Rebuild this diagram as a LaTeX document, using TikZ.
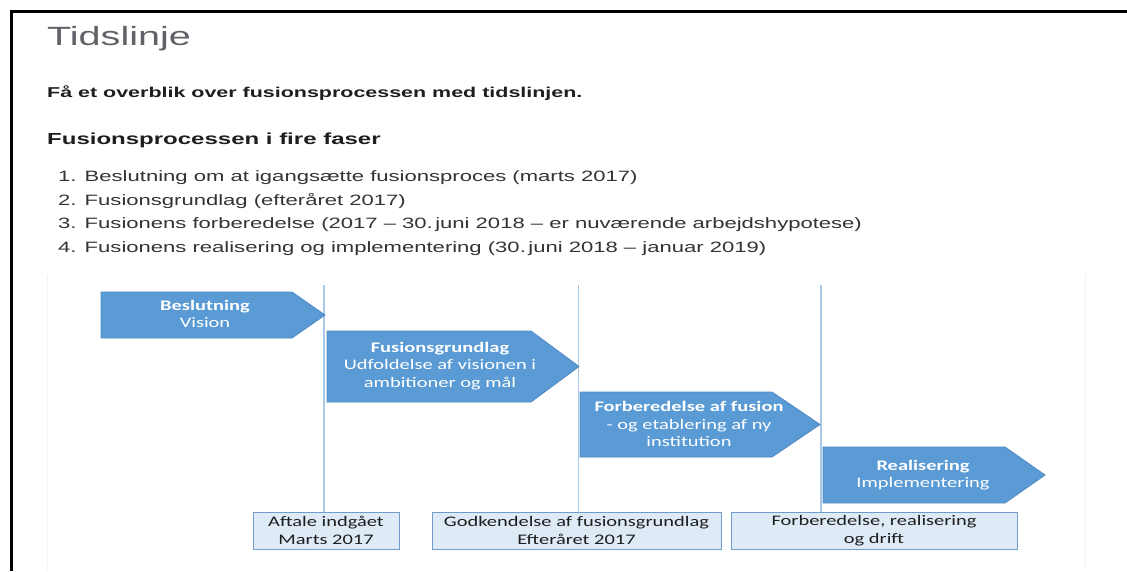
\documentclass[tikz,border=0pt]{standalone}
\usepackage{fontspec}
\setmainfont{Liberation Sans}
\newfontfamily\robfont[FakeStretch=1.5]{Liberation Sans}
\newfontfamily\listfont[FakeStretch=1.47]{Liberation Sans}
\newfontfamily\calfont[FakeStretch=1.4]{Carlito}
\definecolor{arrowfill}{HTML}{5B9BD5}
\definecolor{arrowdraw}{HTML}{4F88C2}
\definecolor{boxfill}{HTML}{DEEBF7}
\definecolor{boxdraw}{HTML}{6F9CCB}
\definecolor{divider}{HTML}{A9C8E8}
\definecolor{titlegrey}{HTML}{5F6368}
\definecolor{bodytext}{HTML}{333333}
\definecolor{darktext}{HTML}{1E1E1E}
\definecolor{faint}{HTML}{F3F3F3}
\tikzset{
  phasearrow/.style={fill=arrowfill, draw=arrowdraw, line width=0.8pt},
  arrowtext/.style={text=white, align=center, inner sep=0pt, font={\calfont\fontsize{14.6}{17.6}\selectfont}},
  datebox/.style={fill=boxfill, draw=boxdraw, line width=1pt, inner sep=0pt, align=center, text=darktext, font={\calfont\fontsize{14.6}{18}\selectfont}},
  dividerline/.style={draw=divider, line width=1.4pt},
  listitem/.style={anchor=base west, inner sep=0pt, text=bodytext, font={\listfont\fontsize{15}{18}\selectfont}},
}
\begin{document}
\begin{tikzpicture}[x=1pt,y=-1pt]
\useasboundingbox (0,0) rectangle (1127,571);
\fill[white] (0,0) rectangle (1127,571);
% frame
\draw[line width=3.2pt, black] (10,11.5) -- (1127,11.5);
\draw[line width=3.2pt, black] (11.5,10) -- (11.5,571);
% faint image borders
\draw[faint, line width=1pt] (47,275) -- (47,571);
\draw[faint, line width=1pt] (1085,275) -- (1085,571);

% headings
\node[anchor=base west, inner sep=0pt, text=titlegrey, font={\robfont\fontsize{26.4}{30}\selectfont}] (title) at (47,45) {Tidslinje};
\node[anchor=base west, inner sep=0pt, text=darktext, font={\robfont\bfseries\fontsize{14.3}{18}\selectfont}] (intro) at (47,97) {Få et overblik over fusionsprocessen med tidslinjen.};
\node[anchor=base west, inner sep=0pt, text=darktext, font={\robfont\bfseries\fontsize{16}{20}\selectfont}] (sub) at (47,144) {Fusionsprocessen i fire faser};

% list
\node[listitem] (l1) at (58,181) {1. Beslutning om at igangsætte fusionsproces (marts 2017)};
\node[listitem] (l2) at (58,205) {2. Fusionsgrundlag (efteråret 2017)};
\node[listitem] (l3) at (58,228.5) {3. Fusionens forberedelse (2017 – 30.\,juni 2018 – er nuværende arbejdshypotese)};
\node[listitem] (l4) at (58,252) {4. Fusionens realisering og implementering (30.\,juni 2018 – januar 2019)};

% date boxes
\node[datebox, minimum width=146pt, minimum height=37pt] (b1) at (326,530.5) {Aftale indgået\\Marts 2017};
\node[datebox, minimum width=289pt, minimum height=37pt] (b2) at (576.5,530.5) {Godkendelse af fusionsgrundlag\\Efteråret 2017};
\node[datebox, minimum width=286pt, minimum height=37pt] (b3) at (874,530.5) {Forberedelse, realisering\\og drift};

% dividers
\coordinate (d1) at (324,285);
\coordinate (d2) at (578.5,285);
\coordinate (d3) at (821,285);
\draw[dividerline] (d1) -- (d1 |- b1.north);
\draw[dividerline] (d2) -- (d2 |- b2.north);
\draw[dividerline] (d3) -- (d3 |- b3.north);

% phase arrows
\draw[phasearrow] (101,292) -- (292,292) -- (325,315) -- (292,338) -- (101,338) -- cycle;
\draw[phasearrow] (327,331) -- (531,331) -- (579,366.5) -- (531,402) -- (327,402) -- cycle;
\draw[phasearrow] (580,392) -- (772,392) -- (820,424.5) -- (772,457) -- (580,457) -- cycle;
\draw[phasearrow] (823,447) -- (1005,447) -- (1045,475) -- (1005,503) -- (823,503) -- cycle;

\node[arrowtext] (t1) at (205,314) {\bfseries Beslutning\\Vision};
\node[arrowtext] (t2) at (440,366) {\bfseries Fusionsgrundlag\\Udfoldelse af visionen i\\ambitioner og mål};
\node[arrowtext] (t3) at (689,424) {\bfseries Forberedelse af fusion\\- og etablering af ny\\institution};
\node[arrowtext] (t4) at (923,475) {\bfseries Realisering\\Implementering};
\end{tikzpicture}
\end{document}
